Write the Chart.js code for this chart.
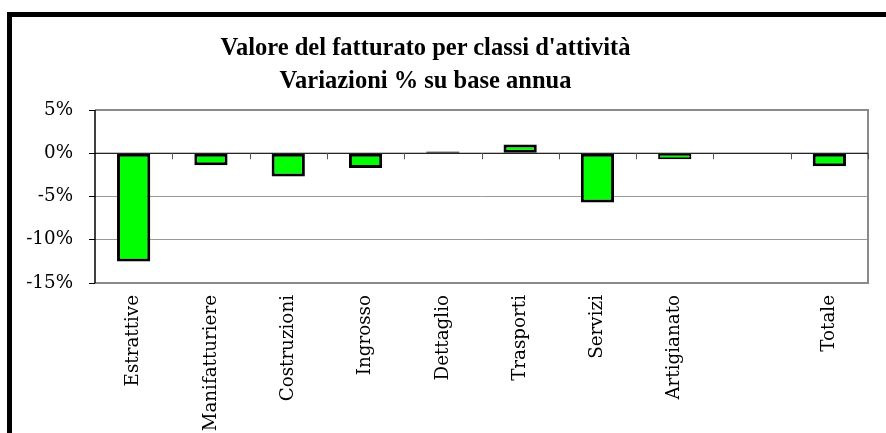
<!DOCTYPE html>
<html>
<head>
<meta charset="utf-8">
<script src="https://cdn.jsdelivr.net/npm/chart.js@4/dist/chart.umd.min.js"></script>
<style>
    body { margin: 0; background: #fff; overflow: hidden; }
    #frame {
        position: absolute; left: 7px; top: 12px;
        width: 900px; height: 460px;
        border: 5px solid #000;
    }
    #wrap { position: absolute; left: 0; top: 0; width: 886px; height: 433px; }
    #title {
        position: absolute; left: 0; top: 30px; width: 851px;
        text-align: center;
        font: bold 24.5px 'Liberation Serif', serif;
        line-height: 33px;
        color: #000;
    }
</style>
</head>
<body>
<div id="frame"></div>
<div id="wrap"><canvas id="chart"></canvas></div>
<div id="title"></div>
<script>
const titleLines = ["Valore del fatturato per classi d'attività", "Variazioni % su base annua"];

const categories = ['Estrattive', 'Manifatturiere', 'Costruzioni', 'Ingrosso', 'Dettaglio',
    'Trasporti', 'Servizi', 'Artigianato', '', 'Totale'];

const variazioni = [-12.5, -1.4, -2.7, -1.7, 0.2, 1.0, -5.7, -0.7, null, -1.5];

const yMin = -15;
const yMax = 5;
const yStep = 5;

const tickFont = { family: 'DejaVu Serif', size: 18.3 };

// grey frame round the plot + small ticks on the zero line
const plotDecor = {
    id: 'plotDecor',
    afterDraw(chart) {
        const ctx = chart.ctx;
        const a = chart.chartArea;
        const x = chart.scales.x;
        const y = chart.scales.y;
        ctx.save();
        ctx.strokeStyle = '#8a8a8a';
        ctx.lineWidth = 2;
        ctx.beginPath();
        ctx.moveTo(a.left, a.top);
        ctx.lineTo(a.right, a.top);
        ctx.lineTo(a.right, a.bottom);
        ctx.lineTo(a.left, a.bottom);
        ctx.stroke();

        const zero = y.getPixelForValue(0);
        ctx.strokeStyle = '#000';
        ctx.lineWidth = 1;
        ctx.beginPath();
        ctx.moveTo(a.left, zero);
        ctx.lineTo(a.right, zero);
        ctx.stroke();

        ctx.strokeStyle = '#555';
        ctx.beginPath();
        for (let i = 0; i < categories.length; i++) {
            let px = (x.getPixelForValue(i) + x.getPixelForValue(i + 1)) / 2;
            if (i == categories.length - 1) px = a.right;
            ctx.moveTo(Math.round(px) + 0.5, zero);
            ctx.lineTo(Math.round(px) + 0.5, zero + 6);
        }
        ctx.stroke();

        ctx.strokeStyle = '#000';
        ctx.lineWidth = 1.5;
        ctx.beginPath();
        ctx.moveTo(a.left, a.top);
        ctx.lineTo(a.left, a.bottom);
        ctx.stroke();
        ctx.restore();
    }
};

function main() {
    document.getElementById('title').innerHTML = titleLines.join('<br>');

    new Chart('chart', {
        type: 'bar',
        data: {
            labels: categories,
            datasets: [{
                data: variazioni,
                backgroundColor: '#00ff00',
                borderColor: '#000',
                // thinner outline on the short bars so the green still shows
                borderWidth: (c) => Math.abs(c.raw) < 1 ? 2 : 3,
                borderSkipped: false,
                categoryPercentage: 1,
                barPercentage: 0.43
            }]
        },
        options: {
            responsive: false,
            animation: false,
            layout: { padding: { left: 0, right: 18, top: 110, bottom: 0 } },
            plugins: {
                legend: { display: false },
                tooltip: { enabled: false },
                title: { display: false }
            },
            scales: {
                x: {
                    afterFit: (scale) => { scale.height = 150; },
                    grid: { display: false },
                    border: { display: false },
                    ticks: {
                        color: '#000',
                        font: tickFont,
                        minRotation: 90,
                        maxRotation: 90,
                        autoSkip: false,
                        padding: 4
                    }
                },
                y: {
                    min: yMin,
                    max: yMax,
                    afterFit: (scale) => { scale.width = 95; },
                    grid: {
                        color: (c) => c.tick && c.tick.value == yMax ? 'rgba(0,0,0,0)' : '#999',
                        tickColor: '#000',
                        tickLength: 6,
                        lineWidth: 1
                    },
                    border: { display: false },
                    ticks: {
                        stepSize: yStep,
                        color: '#000',
                        font: tickFont,
                        padding: 16,
                        callback: (v) => v + '%'
                    }
                }
            }
        },
        plugins: [plotDecor]
    });
}

const cv = document.getElementById('chart');
cv.width = 886;
cv.height = 433;
window.onload = main;
</script>
</body>
</html>
